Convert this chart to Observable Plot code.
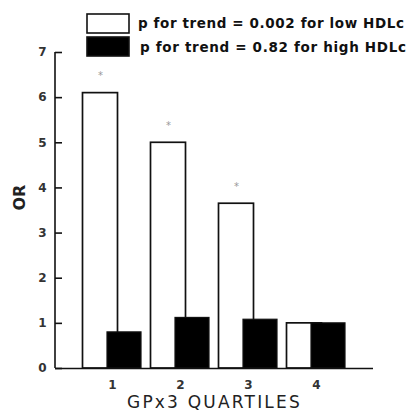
<!DOCTYPE html>
<html>
<head>
<meta charset="utf-8">
<script src="https://cdn.jsdelivr.net/npm/d3@7"></script>
<script src="https://cdn.jsdelivr.net/npm/@observablehq/plot@0.6"></script>
<style>
  html, body { margin: 0; padding: 0; background: #fff; }
  #wrap { position: relative; width: 408px; height: 412px; }
  #legend { position: absolute; left: 0; top: 0; }
  #chart { position: absolute; left: 0; top: 0; }
</style>
</head>
<body>
<div id="wrap">
  <div id="chart"></div>
  <svg id="legend" width="408" height="62"></svg>
</div>
<script>
// ---- data ----
const quartiles = ["1", "2", "3", "4"];
const lowHDL = [6.1, 5.0, 3.65, 1.0];     // white bars
const highHDL = [0.8, 1.12, 1.08, 1.0];   // black bars
const signif = ["*", "*", "*", ""];       // marks over low-HDL bars
const yTicks = [0, 1, 2, 3, 4, 5, 6, 7];
const legendLabels = [
  "p for trend = 0.002 for low HDLc",
  "p for trend = 0.82 for high HDLc"
];

const lowRows = quartiles.map((q, i) => ({q, v: lowHDL[i], s: signif[i]}));
const highRows = quartiles.map((q, i) => ({q, v: highHDL[i]}));

const font = "'DejaVu Sans', sans-serif";
const W = 408, H = 412, ML = 55, MR = 35, MT = 52, MB = 44;
const tickLen = 7;

// y-axis line along the frame's left edge, from the plot's own scale
function leftLine(index, scales, values, dims) {
  const g = d3.create("svg:g");
  g.append("line")
    .attr("x1", dims.marginLeft).attr("x2", dims.marginLeft)
    .attr("y1", scales.y(d3.max(yTicks))).attr("y2", scales.y(0))
    .attr("stroke", "#111").attr("stroke-width", 1.6);
  return g.node();
}

const chart = Plot.plot({
  width: W,
  height: H,
  marginLeft: ML,
  marginRight: MR,
  marginTop: MT,
  marginBottom: MB,
  style: {fontFamily: font, background: "transparent", overflow: "visible"},
  x: {domain: quartiles, paddingInner: 0, paddingOuter: 0.338, label: null},
  y: {domain: [0, 7], label: null},
  marks: [
    Plot.barY(lowRows, {x: "q", y: "v", fill: "white", stroke: "#111", strokeWidth: 1.7,
      insetLeft: 16.5, insetRight: 16.5, dx: -12}),
    Plot.barY(highRows, {x: "q", y: "v", fill: "#000", stroke: "#111", strokeWidth: 1.2,
      insetLeft: 17, insetRight: 17, dx: 12}),
    Plot.text(lowRows, {x: "q", y: "v", text: "s", dx: -12, dy: -17, fill: "#999",
      fontSize: 10}),
    Plot.ruleY([0], {stroke: "#111", strokeWidth: 1.6}),
    leftLine,
    Plot.tickY(yTicks, {y: d => d, insetRight: (W - ML - MR) - tickLen, stroke: "#111", strokeWidth: 1.6}),
    Plot.axisY({ticks: yTicks, tickSize: 0, tickPadding: 9, tickFormat: d3.format("d"),
      fontSize: 12, fontWeight: "bold", fill: "#333", label: null}),
    Plot.axisX({tickSize: 0, tickPadding: 12, fontSize: 12, fontWeight: "bold", fill: "#333", label: null}),
    Plot.text(["GPx3 QUARTILES"], {frameAnchor: "bottom", dy: 34, fontSize: 17, fill: "#222",
      lineAnchor: "middle", text: d => d, className: "xlabel"}),
    Plot.text(["OR"], {frameAnchor: "left", dx: -36, dy: 0, rotate: -90, fontSize: 16,
      fontWeight: "bold", fill: "#222", text: d => d})
  ]
});
document.getElementById("chart").appendChild(chart);
d3.select(chart).selectAll(".xlabel text").attr("letter-spacing", 2.2);

// legend
const lg = d3.select("#legend");
const fills = ["white", "black"];
legendLabels.forEach((t, i) => {
  lg.append("rect")
    .attr("x", 87).attr("y", 14 + i * 23).attr("width", 42).attr("height", 19)
    .attr("fill", fills[i]).attr("stroke", "#111").attr("stroke-width", 1.6);
  lg.append("text")
    .attr("x", 138 + i * 2).attr("y", 28 + i * 24)
    .attr("font-family", font).attr("font-size", 13.5).attr("font-weight", "bold")
    .attr("fill", "#111")
    .attr("textLength", 266).attr("lengthAdjust", "spacing")
    .text(t);
});
</script>
</body>
</html>
